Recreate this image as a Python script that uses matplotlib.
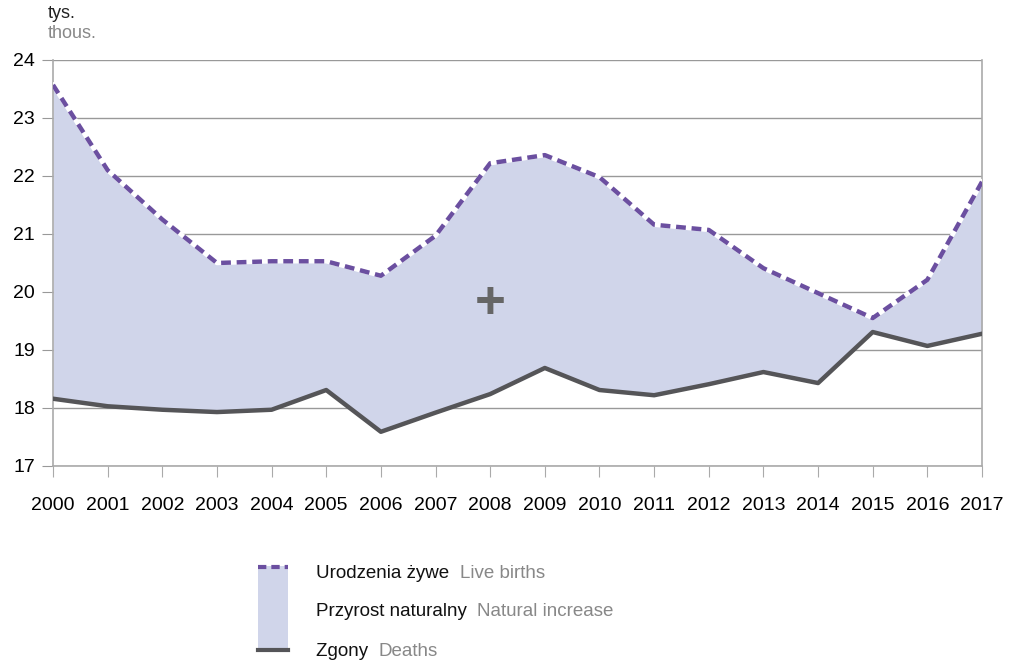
import numpy as np
import matplotlib.pyplot as plt
from matplotlib.patches import Rectangle

plt.rcParams['font.family'] = ['Liberation Sans', 'DejaVu Sans']

years = list(range(2000, 2018))
births = [23.57, 22.10, 21.25, 20.50, 20.53, 20.53, 20.28, 20.97, 22.22, 22.36,
          21.98, 21.16, 21.07, 20.41, 19.98, 19.55, 20.21, 21.90]
deaths = [18.16, 18.03, 17.97, 17.93, 17.97, 18.31, 17.59, 17.92, 18.24, 18.69,
          18.31, 18.22, 18.41, 18.62, 18.43, 19.31, 19.07, 19.28]
yticks = [17, 18, 19, 20, 21, 22, 23, 24]

fill_c = '#d0d5ea'
birth_c = '#6b4fa0'
death_c = '#555558'
grid_c = '#999999'

W, H = 1012, 663
fig = plt.figure(figsize=(W / 100, H / 100), dpi=100)
ax = fig.add_axes([53 / W, 1 - 466 / H, (982 - 53) / W, (466 - 60) / H])

ax.fill_between(years, deaths, births, color=fill_c, lw=0, zorder=1)
ax.plot(years, births, color='white', lw=3.2, zorder=3)
ax.plot(years, births, color=birth_c, lw=3.2, ls=(0, (2.2, 1.3)), zorder=4)
ax.plot(years, deaths, color=death_c, lw=3.2, zorder=4)

ax.set_xlim(2000, 2017)
ax.set_ylim(17, 24)
ax.set_yticks(yticks)
ax.set_xticks(years)
ax.set_xticklabels([str(y) for y in years])
ax.yaxis.grid(True, color=grid_c, lw=1)
ax.set_axisbelow(True)
ax.spines['top'].set_visible(False)
for s in ['left', 'right', 'bottom']:
    ax.spines[s].set_color('#aaaaaa')
    ax.spines[s].set_linewidth(1.2)
ax.tick_params(axis='y', length=8, color=grid_c, labelsize=14, pad=5)
ax.tick_params(axis='x', length=8, color='#aaaaaa', labelsize=14, pad=14, direction='out')

ax.text(2008, 19.8, '+', fontsize=38, color='#666666', ha='center', va='center',
        fontweight='bold', zorder=5)

# unit labels and legend in pixel coordinates
ov = fig.add_axes([0, 0, 1, 1], zorder=-1)
ov.set_xlim(0, W)
ov.set_ylim(H, 0)
ov.axis('off')
ov.text(48, 14, 'tys.', fontsize=13, color='#222222', ha='left', va='center')
ov.text(48, 34, 'thous.', fontsize=13, color='#888888', ha='left', va='center')

ov.add_patch(Rectangle((258, 566), 30, 84, facecolor=fill_c, edgecolor='none'))
ov.plot([258, 288], [567, 567], color=birth_c, lw=3, ls=(0, (2, 1.2)))
ov.plot([258, 288], [650, 650], color=death_c, lw=3)
leg = [('Urodzenia żywe', 'Live births', 573),
       ('Przyrost naturalny', 'Natural increase', 612),
       ('Zgony', 'Deaths', 652)]
for pl, en, y in leg:
    t = ov.text(316, y, pl + '  ', fontsize=13.5, color='#111111', ha='left', va='center')
    fig.canvas.draw()
    bb = t.get_window_extent()
    ov.text(316 + bb.width, y, en, fontsize=13.5, color='#888888', ha='left', va='center')

fig.savefig('out.png', dpi=100)
